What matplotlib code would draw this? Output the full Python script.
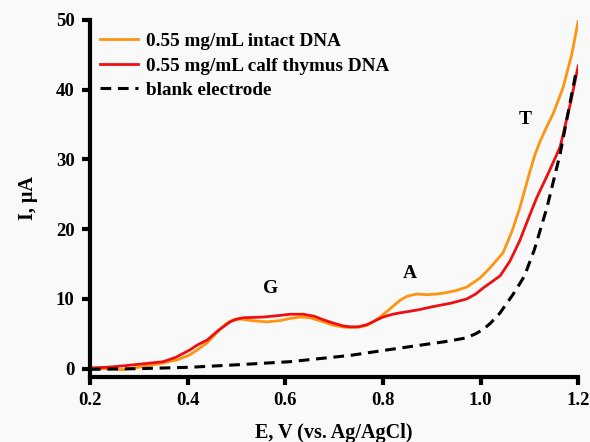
import matplotlib.pyplot as plt

plt.rcParams['font.family'] = ['Liberation Serif', 'DejaVu Serif']
plt.rcParams['font.weight'] = 'bold'

# potential (V vs. Ag/AgCl) and current (uA)
e_intact = [0.20, 0.23, 0.268, 0.30, 0.35, 0.38, 0.405, 0.42, 0.44, 0.46, 0.48, 0.493, 0.51,
            0.53, 0.562, 0.59, 0.61, 0.63, 0.65, 0.665, 0.678, 0.70, 0.72, 0.733, 0.75, 0.767,
            0.78, 0.794, 0.81, 0.82, 0.835, 0.85, 0.87, 0.89, 0.91, 0.93, 0.95, 0.972, 0.999,
            1.02, 1.046, 1.065, 1.081, 1.10, 1.112, 1.122, 1.135, 1.149, 1.169, 1.187, 1.20]
i_intact = [0.05, 0.0, -0.15, 0.2, 0.8, 1.3, 2.0, 2.7, 3.7, 5.2, 6.5, 7.0, 7.1,
            6.9, 6.7, 6.9, 7.2, 7.4, 7.3, 7.0, 6.7, 6.2, 5.95, 5.9, 5.95, 6.2,
            6.7, 7.4, 8.3, 8.9, 9.8, 10.4, 10.7, 10.6, 10.7, 10.9, 11.2, 11.7, 13.0,
            14.5, 16.6, 19.8, 23.2, 28.0, 30.8, 32.6, 34.6, 36.6, 40.3, 45.1, 49.9]

e_calf = [0.20, 0.235, 0.268, 0.31, 0.35, 0.375, 0.405, 0.42, 0.44, 0.465, 0.487, 0.50, 0.514,
          0.535, 0.555, 0.585, 0.61, 0.637, 0.66, 0.678, 0.70, 0.72, 0.733, 0.75, 0.767, 0.785,
          0.80, 0.82, 0.835, 0.87, 0.903, 0.94, 0.972, 0.99, 1.006, 1.02, 1.04, 1.06, 1.08,
          1.095, 1.115, 1.14, 1.163, 1.184, 1.20]
i_calf = [0.1, 0.2, 0.4, 0.7, 1.0, 1.6, 2.7, 3.4, 4.1, 5.6, 6.7, 7.1, 7.3,
          7.35, 7.4, 7.6, 7.8, 7.8, 7.5, 7.0, 6.5, 6.1, 6.0, 6.0, 6.3, 6.9,
          7.4, 7.8, 8.0, 8.4, 8.9, 9.4, 10.0, 10.7, 11.6, 12.3, 13.3, 15.4, 18.3,
          21.0, 24.5, 28.2, 31.8, 38.0, 43.4]

e_blank = [0.20, 0.30, 0.405, 0.50, 0.61, 0.733, 0.80, 0.87, 0.93, 0.97, 0.99, 1.005, 1.02,
           1.04, 1.054, 1.07, 1.09, 1.11, 1.136, 1.163, 1.184, 1.197]
i_blank = [-0.1, 0.0, 0.2, 0.55, 1.0, 1.9, 2.6, 3.3, 3.9, 4.4, 5.0, 5.6, 6.5,
           8.0, 9.4, 11.0, 13.3, 17.0, 23.1, 30.8, 38.4, 43.0]

peak_labels = ['G', 'A', 'T']
peak_x = [0.569, 0.856, 1.091]
peak_y = [11.5, 13.7, 35.7]

fig = plt.figure(figsize=(5.9, 4.42), dpi=100)
fig.patch.set_facecolor('#f9f9f9')
ax = fig.add_axes([0.1525, 0.147, 0.8275, 0.808])
ax.set_facecolor('#f9f9f9')

ax.plot(e_intact, i_intact, color='#ff9412', lw=2, label='0.55 mg/mL intact DNA')
ax.plot(e_calf, i_calf, color='#ee1010', lw=2, label='0.55 mg/mL calf thymus DNA')
ax.plot(e_blank, i_blank, color='black', lw=2.2, ls=(0, (3.5, 2.2)), label='blank electrode')

for lab, x, y in zip(peak_labels, peak_x, peak_y):
    ax.text(x, y, lab, fontsize=14, fontweight='bold', ha='center', va='center')

ax.set_xlim(0.2, 1.2)
ax.set_ylim(-1.2, 50)
ax.set_xticks([0.2, 0.4, 0.6, 0.8, 1.0, 1.2])
ax.set_xticklabels(['0.2', '0.4', '0.6', '0.8', '1.0', '1.2'])
ax.set_yticks([0, 10, 20, 30, 40, 50])

for s in ['top', 'right']:
    ax.spines[s].set_visible(False)
for s in ['left', 'bottom']:
    ax.spines[s].set_linewidth(3)
ax.tick_params(width=3, length=6, labelsize=13.5, direction='out', pad=5)
for t in ax.get_xticklabels() + ax.get_yticklabels():
    t.set_fontweight('bold')

ax.set_xlabel('E, V (vs. Ag/AgCl)', fontsize=14.5, fontweight='bold', labelpad=10)
ax.set_ylabel('I, \u03bcA', fontsize=14.5, fontweight='bold', labelpad=13)

leg = ax.legend(loc='upper left', frameon=False, fontsize=13.8, handlelength=2.0,
                handletextpad=0.4, labelspacing=0.38, borderaxespad=0, borderpad=0,
                bbox_to_anchor=(0.02, 0.965))
for t in leg.get_texts():
    t.set_fontweight('bold')

fig.savefig('out.png', dpi=100, facecolor=fig.get_facecolor())
